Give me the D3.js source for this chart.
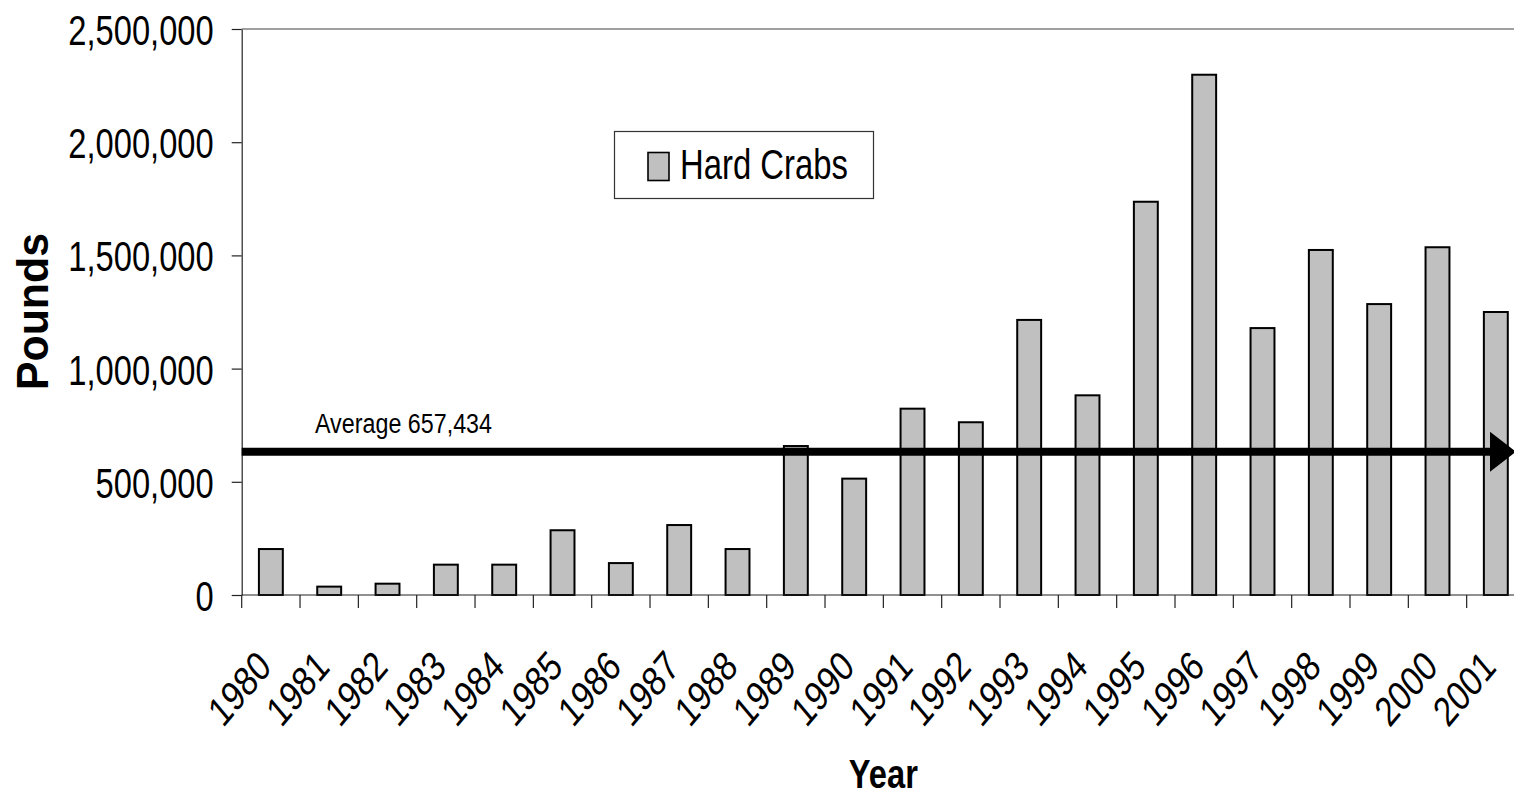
<!DOCTYPE html>
<html>
<head>
<meta charset="utf-8">
<script src="https://cdn.jsdelivr.net/npm/d3@7"></script>
<style>
  html, body { margin: 0; padding: 0; background: #fff; }
  svg { display: block; font-family: "Liberation Sans", Arial, sans-serif; }
</style>
</head>
<body>
<svg id="chart" width="1514" height="794"></svg>
<script>
// ---- data ----
const years = ["1980","1981","1982","1983","1984","1985","1986","1987","1988","1989","1990",
               "1991","1992","1993","1994","1995","1996","1997","1998","1999","2000","2001"];
const hardCrabs = [203000, 37000, 50000, 134000, 134000, 286000, 141000, 309000, 203000, 658000, 514000,
                   823000, 763000, 1215000, 882000, 1737000, 2298000, 1179000, 1524000, 1285000, 1536000, 1250000];
const yTicks = [0, 500000, 1000000, 1500000, 2000000, 2500000];
const seriesName = "Hard Crabs";
const averageLabel = "Average 657,434";
const averageLineLevel = 633000; // level at which the arrow is drawn in the picture
const xTitle = "Year";
const yTitle = "Pounds";

(function () {
// ---- layout ----
const svg = d3.select("#chart");
const plotLeft = 241.7, plotRight = 1525, plotTop = 29, plotBottom = 595;

const x = d3.scaleBand().domain(years).range([plotLeft, plotRight]).padding(0);
const y = d3.scaleLinear().domain([0, 2500000]).range([plotBottom, plotTop]);
const barW = x.bandwidth() * 0.41;

// top border line (plot area)
svg.append("line")
  .attr("x1", plotLeft).attr("x2", 1514)
  .attr("y1", y(2500000)).attr("y2", y(2500000))
  .attr("stroke", "#808080").attr("stroke-width", 1.5);

// bars
svg.append("g").selectAll("rect")
  .data(years.map((yr, i) => ({ yr, v: hardCrabs[i] })))
  .join("rect")
  .attr("x", d => x(d.yr) + (x.bandwidth() - barW) / 2)
  .attr("y", d => y(d.v))
  .attr("width", barW)
  .attr("height", d => y(0) - y(d.v))
  .attr("fill", "#c0c0c0")
  .attr("stroke", "#000")
  .attr("stroke-width", 2);

// y axis
const yAxis = svg.append("g")
  .attr("transform", `translate(${plotLeft},0)`)
  .call(d3.axisLeft(y).tickValues(yTicks).tickFormat(d3.format(",")).tickSize(10).tickSizeOuter(0));
yAxis.select(".domain").attr("stroke", "#222").attr("stroke-width", 1.2);
yAxis.selectAll(".tick line").attr("stroke", "#222").attr("stroke-width", 1.2);
yAxis.selectAll(".tick text").remove();
yAxis.selectAll(".tick").append("text")
  .attr("transform", "translate(-28,0) scale(0.76,1)")
  .attr("text-anchor", "end")
  .attr("dy", "0.36em")
  .attr("fill", "#000")
  .style("font-size", "43px")
  .style("font-family", "'Liberation Sans', Arial, sans-serif")
  .text(d => d3.format(",")(d));

// x axis line
svg.append("line")
  .attr("x1", plotLeft).attr("x2", 1514)
  .attr("y1", plotBottom).attr("y2", plotBottom)
  .attr("stroke", "#222").attr("stroke-width", 1.2);

// x ticks at band boundaries
const boundaries = years.map(yr => x(yr)).concat([x(years[years.length - 1]) + x.bandwidth()]);
svg.append("g").selectAll("line")
  .data(boundaries)
  .join("line")
  .attr("x1", d => d).attr("x2", d => d)
  .attr("y1", plotBottom).attr("y2", plotBottom + 13)
  .attr("stroke", "#222").attr("stroke-width", 1.2);

// x tick labels, rotated
svg.append("g").selectAll("text")
  .data(years)
  .join("text")
  .attr("transform", d => `translate(${x(d) + x.bandwidth() / 2 + 2},669) scale(0.84,1) rotate(-45)`)
  .attr("text-anchor", "end")
  .attr("textLength", 84).attr("lengthAdjust", "spacingAndGlyphs")
  .attr("fill", "#000")
  .style("font-size", "42px")
  .text(d => d);

// average arrow
const ay = y(averageLineLevel);
svg.append("line")
  .attr("x1", plotLeft).attr("x2", 1492)
  .attr("y1", ay).attr("y2", ay)
  .attr("stroke", "#000").attr("stroke-width", 8);
svg.append("path")
  .attr("d", d3.line()([[1490, ay - 20], [1516, ay], [1490, ay + 20]]) + "Z")
  .attr("fill", "#000");

svg.append("text")
  .attr("x", 315).attr("y", 432.5)
  .attr("textLength", 177).attr("lengthAdjust", "spacingAndGlyphs")
  .style("font-size", "27px")
  .attr("fill", "#000")
  .text(averageLabel);

// legend
const lg = svg.append("g");
lg.append("rect")
  .attr("x", 614.5).attr("y", 131.5).attr("width", 259).attr("height", 67)
  .attr("fill", "#fff").attr("stroke", "#333").attr("stroke-width", 1.2);
lg.append("rect")
  .attr("x", 648).attr("y", 152.5).attr("width", 21).attr("height", 28)
  .attr("fill", "#c0c0c0").attr("stroke", "#000").attr("stroke-width", 1.6);
lg.append("text")
  .attr("x", 680).attr("y", 179.3)
  .attr("textLength", 168).attr("lengthAdjust", "spacingAndGlyphs")
  .style("font-size", "43px")
  .attr("fill", "#000")
  .text(seriesName);

// axis titles
svg.append("text")
  .attr("x", (plotLeft + plotRight) / 2).attr("y", 788)
  .attr("text-anchor", "middle")
  .attr("textLength", 69).attr("lengthAdjust", "spacingAndGlyphs")
  .style("font-size", "41px").style("font-weight", "bold")
  .attr("fill", "#000")
  .text(xTitle);

svg.append("text")
  .attr("transform", "translate(48,311.5) rotate(-90)")
  .attr("text-anchor", "middle")
  .attr("textLength", 157).attr("lengthAdjust", "spacingAndGlyphs")
  .style("font-size", "44px").style("font-weight", "bold")
  .attr("fill", "#000")
  .text(yTitle);
})();
</script>
</body>
</html>
